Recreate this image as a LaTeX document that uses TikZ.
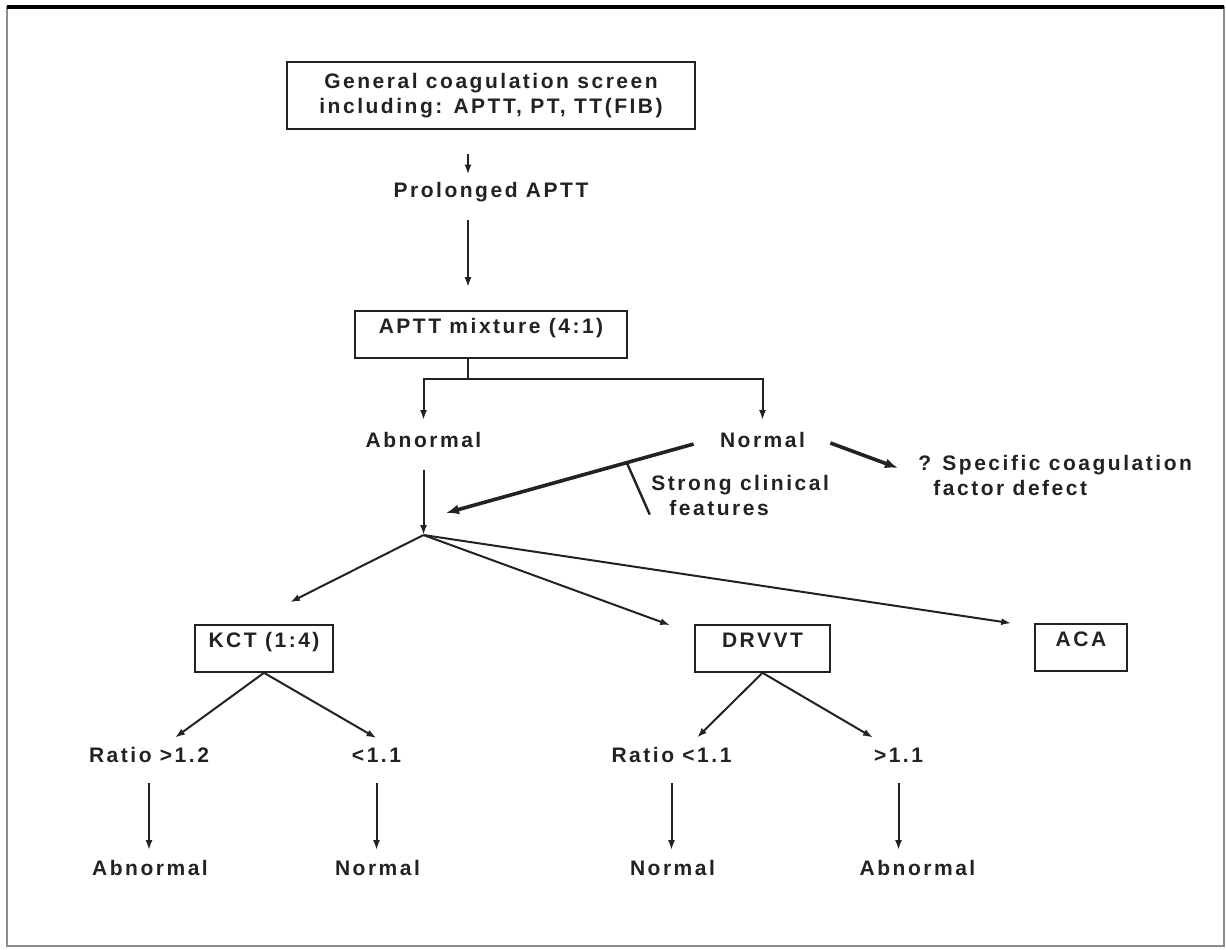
\documentclass[tikz,border=0pt]{standalone}
\usepackage{fontspec}
\setmainfont{Liberation Sans}[LetterSpace=12]
\usepackage{tikz}
\usetikzlibrary{arrows.meta}
\definecolor{InkDark}{HTML}{222222}
\definecolor{FrameGrey}{HTML}{8C8C8C}

\begin{document}
\begin{tikzpicture}[
  x=0.5pt, y=-0.5pt,
  every node/.style={font=\bfseries\fontsize{10.5}{12.5}\selectfont, text=InkDark},
  lbl/.style={inner sep=0pt, text height=7.5pt, text depth=0pt},
  note/.style={inner sep=0pt, align=left, anchor=north west},
  box/.style={draw=InkDark, line width=0.8pt, inner sep=0pt},
  testbox/.style={box, text height=11.25pt, text depth=12.25pt},
  arrow/.style={-{Latex[length=5pt,width=3.5pt]}, line width=1pt, draw=InkDark},
  heavy/.style={-{Latex[length=6.5pt,width=5pt]}, line width=1.8pt, draw=InkDark},
  vline/.style={arrow, shorten <=10pt, shorten >=5pt}
]
  \useasboundingbox (0,0) rectangle (1226,949);
  \draw[FrameGrey, line width=0.6pt] (7,7) rectangle (1224,946);
  \draw[line width=1.6pt] (7,7) -- (1224,7);

  \node[box, align=center, minimum width=204pt, minimum height=33.5pt] (screen) at (491,95.5) {General coagulation screen\\including: APTT, PT, TT(FIB)};
  \node[lbl] (prol) at (491,190) {Prolonged APTT};
  \node[testbox, minimum width=136pt] (mix) at (491,334.5) {APTT mixture (4:1)};

  \node[lbl] (abn) at (423.5,440) {Abnormal};
  \node[lbl] (nor) at (762.5,440) {Normal};
  \node[note] (clin) at (651,475) {Strong clinical\\\hspace*{9pt}features};
  \node[note] (spec) at (918,455) {? Specific coagulation\\\hspace*{7.5pt}factor defect};
  \coordinate (hub) at (423.5,535);

  \node[testbox, minimum width=69pt] (kct) at (264,648.5) {KCT (1:4)};
  \node[testbox, minimum width=67.5pt] (drvvt) at (762.5,648.5) {DRVVT};
  \node[testbox, minimum width=46pt] (aca) at (1081,647.5) {ACA};

  \node[lbl] (ratA) at (149,755) {Ratio >1.2};
  \node[lbl] (ltA) at (376.5,755) {<1.1};
  \node[lbl] (ratB) at (671.5,755) {Ratio <1.1};
  \node[lbl] (gtB) at (898.5,755) {>1.1};
  \node[lbl] (abnA) at (150,868) {Abnormal};
  \node[lbl] (norA) at (377.5,868) {Normal};
  \node[lbl] (norB) at (672.5,868) {Normal};
  \node[lbl] (abnB) at (917.5,868) {Abnormal};

  \draw[arrow, shorten <=12pt, shorten >=3.75pt] ([xshift=-11.5pt]screen.south) -- ([xshift=-11.5pt]screen.south |- prol.north);
  \draw[arrow, shorten <=11.25pt, shorten >=11.5pt] ([xshift=-11.5pt]prol.south) -- ([xshift=-11.5pt]prol.south |- mix.north);

  \coordinate (split) at ([xshift=-11.5pt,yshift=-10pt]mix.south);
  \draw[line width=1pt, InkDark] (mix.south -| split) -- (split);
  \draw[arrow, shorten >=6pt] (split) -| (abn);
  \draw[arrow, shorten >=6pt] (split) -| (nor);

  \draw[arrow, shorten <=11.25pt] (abn) -- (hub);
  \draw[heavy] ([xshift=-13pt,yshift=-2pt]nor.west) -- coordinate[pos=0.27] (cut) ([xshift=11.25pt,yshift=11pt]hub);
  \draw[line width=1.2pt, InkDark] (cut) -- ++(23,52);
  \draw[heavy] ([xshift=12.5pt,yshift=-1.5pt]nor.east) -- ([xshift=-10pt,yshift=-6.5pt]spec.north west);

  \draw[arrow] (hub) -- ([xshift=13pt,yshift=11pt]kct.north);
  \draw[arrow] (hub) -- ([xshift=-12pt,yshift=-0.5pt]drvvt.north west);
  \draw[arrow] (hub) -- ([xshift=-11.5pt]aca.north west);

  \draw[arrow] (kct.south) -- ([xshift=13pt,yshift=4.75pt]ratA.north);
  \draw[arrow] (kct.south) -- ([yshift=4.5pt]ltA.north);
  \draw[arrow] (drvvt.south) -- ([xshift=12.75pt,yshift=4.75pt]ratB.north);
  \draw[arrow] (drvvt.south) -- ([xshift=-12.75pt,yshift=4.75pt]gtB.north);

  \draw[vline] (ratA) -- (ratA |- abnA.north);
  \draw[vline] (ltA) -- (ltA |- norA.north);
  \draw[vline] (ratB) -- (ratB |- norB.north);
  \draw[vline] (gtB) -- (gtB |- abnB.north);
\end{tikzpicture}
\end{document}
